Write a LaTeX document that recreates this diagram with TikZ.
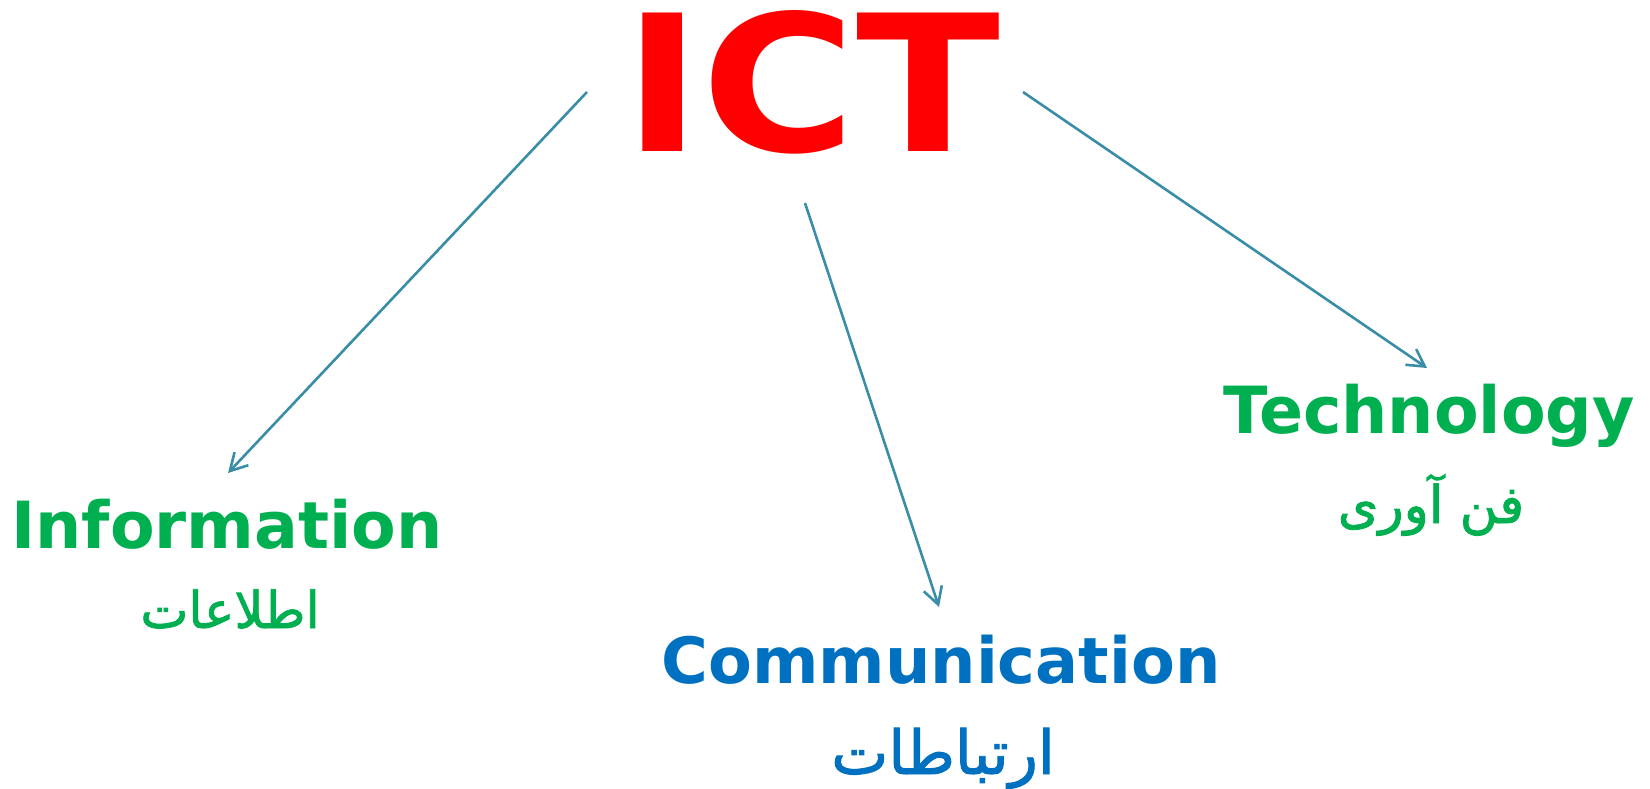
\documentclass[tikz,border=0pt]{standalone}
\usepackage{fontspec}
\setmainfont{DejaVu Sans}
\newfontfamily\arabicfont[Script=Arabic, FakeBold=1.6]{DejaVu Sans}
\newfontfamily\ictfont[FakeStretch=1.11]{DejaVu Sans}
\TeXXeTstate=1
\usetikzlibrary{arrows.meta}
\definecolor{ictred}{HTML}{FF0000}
\definecolor{ictgreen}{HTML}{00B050}
\definecolor{ictblue}{HTML}{0070C0}
\definecolor{ictline}{HTML}{3A8DA6}

\begin{document}
\begin{tikzpicture}[x=1pt, y=-1pt,
    word/.style={anchor=base, inner sep=0pt, font=\fontsize{65}{78}\selectfont\bfseries},
    farsi/.style={anchor=base, inner sep=0pt},
    link/.style={ictline, line width=2.6pt, -{Straight Barb[length=17pt, width=19pt, line width=2.6pt]}}]
        \useasboundingbox (0,0) rectangle (1650,788);
        \node[anchor=base, inner sep=0pt, ictred, font=\fontsize{190}{228}\selectfont\ictfont\bfseries] (ict) at (812,151) {ICT};

        \node[word, ictgreen] (info) at (227,548) {Information};
        \node[farsi, ictgreen, font=\fontsize{51}{61}\selectfont\arabicfont] (infofa) at (230,628) {\beginR اطلاعات\endR};

        \node[word, ictblue, font=\fontsize{63.8}{76}\selectfont\bfseries] (comm) at (941,683) {Communication};
        \node[farsi, ictblue, font=\fontsize{60.6}{72}\selectfont\arabicfont] (commfa) at (943,774) {\beginR ارتباطات\endR};

        \node[word, ictgreen] (tech) at (1429,433) {Technology};
        \node[farsi, ictgreen, font=\fontsize{52}{62}\selectfont\arabicfont] (techfa) at (1431,523) {\beginR فن آوری\endR};

        \coordinate (infostart) at (587,92);
        \coordinate (commstart) at (805,203);
        \coordinate (techstart) at (1023,92);
        \coordinate (infoend) at (228,473);
        \coordinate (commend) at (939,607);
        \coordinate (techend) at (1427,368);

        \draw[link] (infostart) -- (infoend);
        \draw[link] (commstart) -- (commend);
        \draw[link] (techstart) -- (techend);
    \end{tikzpicture}
\end{document}
